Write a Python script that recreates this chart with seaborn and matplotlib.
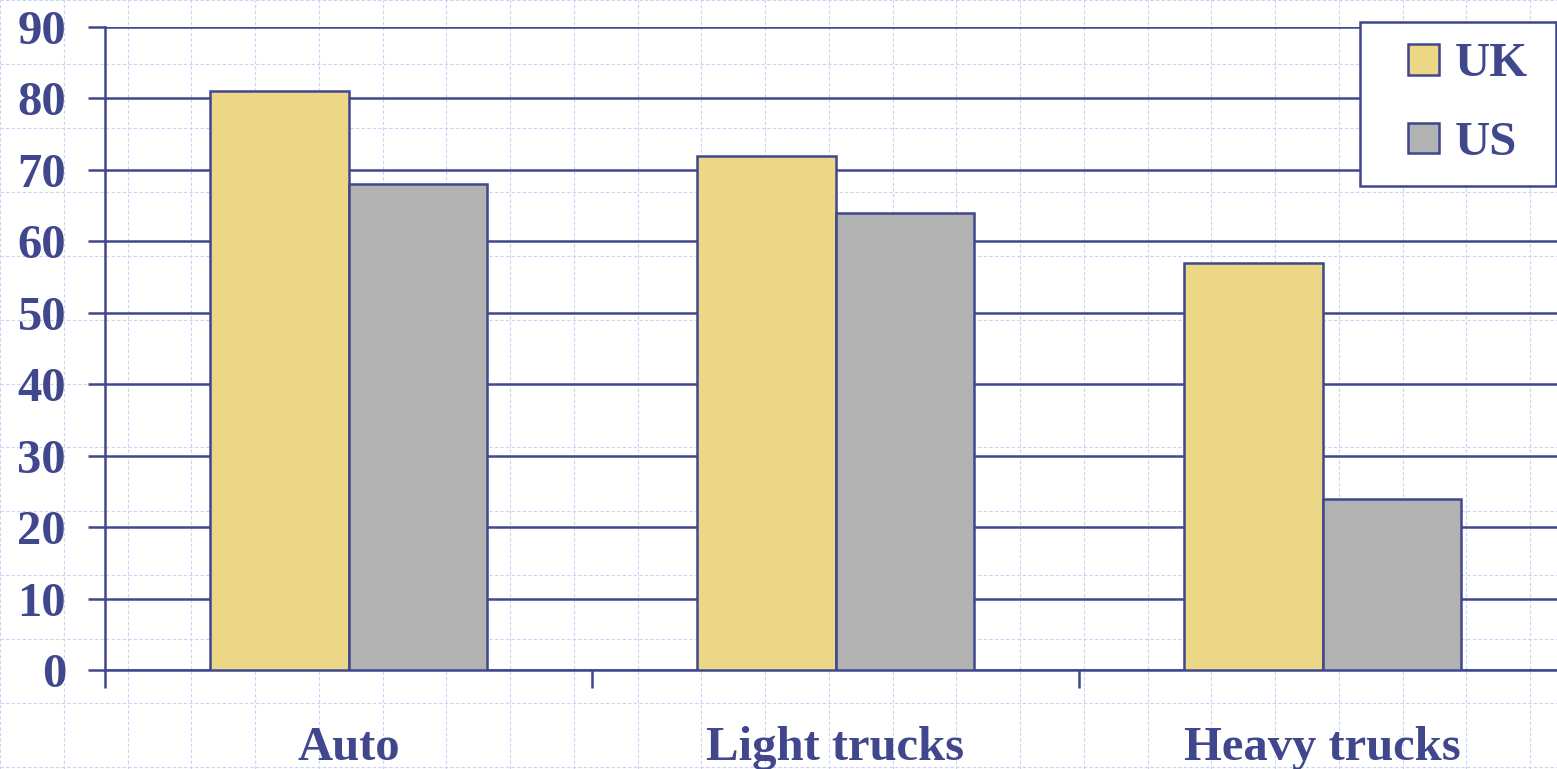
import matplotlib
matplotlib.use("Agg")
import matplotlib.pyplot as plt
from matplotlib.patches import Patch, Rectangle
from matplotlib.legend_handler import HandlerPatch
import seaborn as sns
import pandas as pd

# Values per vehicle class
categories = ["Auto", "Light trucks", "Heavy trucks"]
series_names = ["UK", "US"]
uk_values = [81, 72, 57]
us_values = [68, 64, 24]
y_ticks = [0, 10, 20, 30, 40, 50, 60, 70, 80, 90]

NAVY = "#40478C"
COLORS = {"UK": "#EBD785", "US": "#B2B2B2"}
PAPER_GRID = "#C5D5F7"
LW = 1.8

sns.set_theme(style="white")
plt.rcParams["font.family"] = ["Liberation Serif", "DejaVu Serif"]
plt.rcParams["font.weight"] = "bold"

df = pd.DataFrame({
    "category": categories * 2,
    "country": [series_names[0]] * len(categories) + [series_names[1]] * len(categories),
    "value": uk_values + us_values,
})

W, H = 1557, 769
fig = plt.figure(figsize=(W / 100, H / 100), dpi=100)

# Light dashed "graph paper" behind the whole figure
bg = fig.add_axes([0, 0, 1, 1], zorder=-1)
bg.set_xlim(0, W)
bg.set_ylim(H, 0)
bg.set_xticks(range(-6, W + 1, 64))
bg.set_yticks(range(-1, H + 1, 64))
bg.grid(True, color=PAPER_GRID, linestyle=(0, (3, 2)), linewidth=0.8)
bg.tick_params(length=0, labelbottom=False, labelleft=False)
for s in bg.spines.values():
    s.set_visible(False)
bg.set_facecolor("white")

ax = fig.add_axes([105 / W, 1 - 670 / H, 1461 / W, 643 / H])
ax.set_facecolor("none")

sns.barplot(data=df, x="category", y="value", hue="country",
            order=categories, hue_order=series_names,
            palette=COLORS, width=0.57, edgecolor=NAVY, linewidth=LW,
            saturation=1, ax=ax, legend=False, zorder=3)

ax.set_xlim(-0.5, 2.5)
ax.set_ylim(0, 90)
ax.set_yticks(y_ticks)
ax.set_axisbelow(True)
ax.yaxis.grid(True, color=NAVY, linewidth=LW)
ax.set_xlabel("")
ax.set_ylabel("")

for side in ("top", "right"):
    ax.spines[side].set_visible(False)
for side in ("left", "bottom"):
    ax.spines[side].set_color(NAVY)
    ax.spines[side].set_linewidth(LW)

label_font = dict(fontsize=35, fontweight="bold", color=NAVY)
ax.set_yticklabels([str(v) for v in y_ticks], **label_font)
ax.tick_params(axis="y", direction="out", length=12, width=LW, color=NAVY, pad=16, left=True)

# Category labels centred on groups, tick marks at the group boundaries
ax.set_xticks([0, 1, 2])
ax.set_xticklabels(categories, **label_font)
ax.tick_params(axis="x", which="major", length=0, pad=40)
ax.set_xticks([-0.5, 0.5, 1.5, 2.5], minor=True)
ax.tick_params(axis="x", which="minor", direction="out", length=13, width=LW,
               color=NAVY, bottom=True)


class SquareAtRight(HandlerPatch):
    """Legend key drawn as a square pushed to the right end of the handle box."""

    def create_artists(self, legend, orig_handle, xdescent, ydescent,
                       width, height, fontsize, trans):
        side = height
        p = Rectangle((-xdescent + width - side, -ydescent), side, side)
        self.update_prop(p, orig_handle, legend)
        p.set_transform(trans)
        return [p]


handles = [Patch(facecolor=COLORS[n], edgecolor=NAVY, linewidth=LW, label=n)
           for n in series_names]
leg = ax.legend(handles=handles, loc="upper left", mode="expand",
                bbox_to_anchor=(1360 / W, 1 - 182 / H, 196 / W, 160 / H),
                bbox_transform=fig.transFigure,
                handler_map={Patch: SquareAtRight()},
                prop={"family": "Liberation Serif", "weight": "bold", "size": 35},
                handlelength=1.2, handleheight=0.6, handletextpad=0.33,
                labelspacing=0.715, borderpad=0.42, borderaxespad=0,
                frameon=True, fancybox=False, framealpha=1)
for t in leg.get_texts():
    t.set_color(NAVY)
frame = leg.get_frame()
frame.set_edgecolor(NAVY)
frame.set_linewidth(LW)
frame.set_facecolor("white")
leg.set_zorder(10)

fig.savefig("out.png", dpi=100)
